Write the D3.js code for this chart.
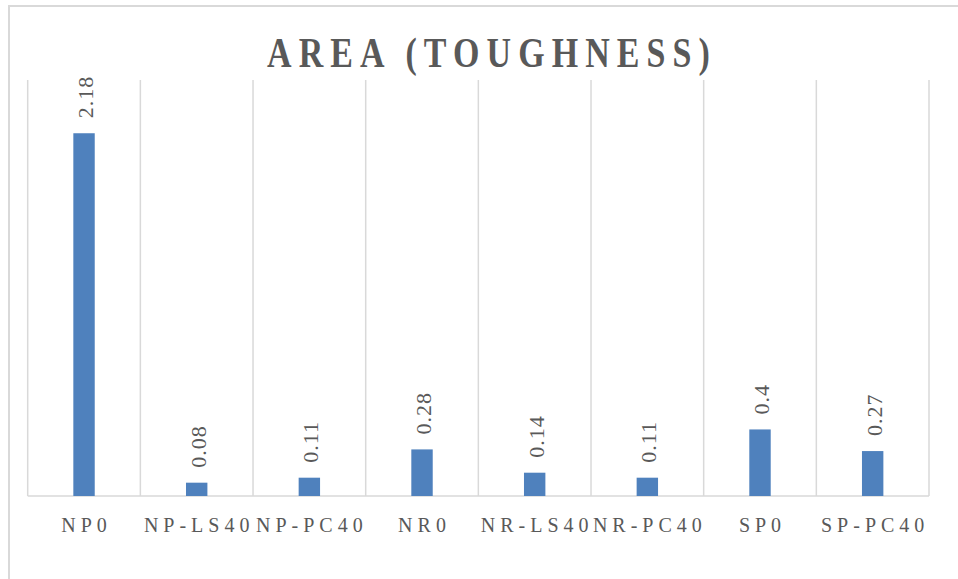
<!DOCTYPE html>
<meta charset="utf-8">
<title>Area (Toughness)</title>
<style>
  html, body { margin: 0; padding: 0; background: #fff; }
  svg { display: block; }
  .frame { fill: none; stroke: #d9d9d9; stroke-width: 2px; }
  .grid line, .baseline { stroke: #d9d9d9; stroke-width: 1.5px; }
  .bar { fill: #4f81bd; }
  text { font-family: 'Liberation Serif', 'DejaVu Serif', serif; fill: #595959; }
  .title { font-size: 43px; font-weight: bold; letter-spacing: 9px; }
  .value { font-size: 22px; letter-spacing: 1px; }
  .cat { font-size: 20px; letter-spacing: 5px; }
</style>
<svg></svg>
<script src="https://cdn.jsdelivr.net/npm/d3@7"></script>
<script>
  /* global d3 */
  'use strict'
  const categories = ['NP0', 'NP-LS40', 'NP-PC40', 'NR0', 'NR-LS40', 'NR-PC40', 'SP0', 'SP-PC40']
  const values = [2.18, 0.08, 0.11, 0.28, 0.14, 0.11, 0.4, 0.27]
  const yDomain = [0, 2.5]

  let width = 958, height = 579
  let plot = { left: 27.7, right: 929, top: 80, bottom: 496 }

  let svg = d3.select('svg')
    .attr('width', width)
    .attr('height', height)

  // chart frame (runs off the right and bottom edges)
  svg.append('path')
    .classed('frame', true)
    .attr('d', `M9,${height + 5}V6H${width + 5}`)

  let x = d3.scaleBand()
    .domain(categories)
    .range([plot.left, plot.right])
  let y = d3.scaleLinear()
    .domain(yDomain)
    .range([plot.bottom, plot.top])

  // vertical gridlines between categories
  let edges = categories.map(c => x(c)).concat(plot.right)
  svg.append('g').classed('grid', true)
    .selectAll('line')
    .data(edges)
    .enter().append('line')
    .attr('x1', d => d).attr('x2', d => d)
    .attr('y1', y(yDomain[1])).attr('y2', y(0))

  svg.append('line')
    .classed('baseline', true)
    .attr('x1', plot.left).attr('x2', plot.right)
    .attr('y1', y(0)).attr('y2', y(0))

  let barW = x.bandwidth() * 0.19
  let cx = c => x(c) + x.bandwidth() / 2

  svg.selectAll('.bar')
    .data(categories)
    .enter().append('rect')
    .classed('bar', true)
    .attr('x', (c) => cx(c) - barW / 2)
    .attr('y', (c, i) => y(values[i]))
    .attr('width', barW)
    .attr('height', (c, i) => y(0) - y(values[i]))

  // value labels, rotated
  svg.selectAll('.value')
    .data(categories)
    .enter().append('text')
    .classed('value', true)
    .attr('transform', (c, i) => `translate(${cx(c) + 9},${y(values[i]) - 15}) rotate(-90)`)
    .text((c, i) => values[i])

  // category labels
  svg.selectAll('.cat')
    .data(categories)
    .enter().append('text')
    .classed('cat', true)
    .attr('x', c => cx(c) + 2.5)
    .attr('y', 532)
    .attr('text-anchor', 'middle')
    .text(c => c)

  svg.append('text')
    .classed('title', true)
    .attr('transform', 'translate(492,67) scale(0.79,1)')
    .attr('text-anchor', 'middle')
    .text('AREA (TOUGHNESS)')
</script>
